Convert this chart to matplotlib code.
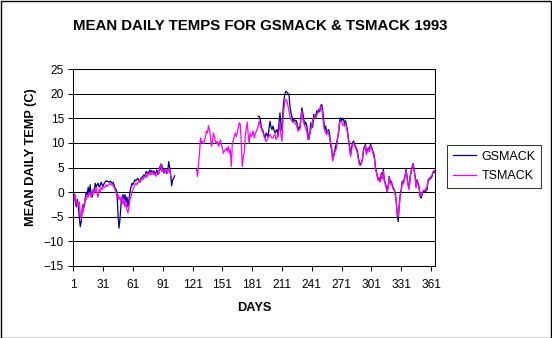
import matplotlib
matplotlib.use("Agg")
import matplotlib.pyplot as plt
import matplotlib.patches as mpatches
import numpy as np

plt.rcParams['font.family'] = ['Liberation Sans', 'DejaVu Sans']

# GSMACK, days 1-103, then missing until day 187
gs_winter = [-1.0, -0.5, -2.0, -3.0, -1.5, -2.5, -5.0, -7.0, -6.0, -3.5,
             -2.5, -3.0, -1.5, 0.0, -0.5, 1.0, -0.5, 1.5, -0.8, -1.0,
             0.5, 0.0, 1.8, 1.0, 1.5, 1.8, 1.0, 1.3, 2.0, 1.5,
             1.2, 1.8, 2.0, 2.3, 2.2, 2.2, 2.0, 2.2, 2.1, 1.8,
             2.0, 1.5, 0.8, 0.5, 0.0, -4.5, -7.3, -5.5, -2.5, -1.0,
             -0.5, -1.5, -0.5, -2.0, -1.0, -3.0, -1.5, 0.0, 1.0, 1.8,
             1.5, 2.0, 2.5, 2.3, 2.6, 2.8, 2.4, 2.0, 2.8, 3.0,
             3.2, 3.5, 3.0, 4.0, 4.2, 3.5, 4.0, 4.5, 4.0, 4.4,
             3.8, 4.3, 4.0, 3.5, 4.5, 4.0, 3.7, 5.2, 4.6, 5.6,
             4.3, 4.8, 4.0, 4.5, 3.8, 4.2, 6.2, 5.0, 3.5, 1.3,
             2.5, 2.8, 3.3]
gs_summer = [15.4, 15.4, 15.0, 13.4, 12.8, 12.4, 11.5, 11.0, 12.0, 11.6,
             11.3, 13.0, 14.4, 13.2, 12.7, 13.4, 12.6, 12.0, 12.4, 12.7,
             11.3, 14.1, 16.1, 13.5, 12.4, 16.5, 18.8, 20.0, 20.5, 20.3,
             20.0, 19.9, 17.5, 16.1, 15.4, 14.4, 14.8, 14.4, 14.6, 14.1,
             12.7, 13.2, 13.0, 15.0, 17.1, 16.1, 14.7, 13.7, 14.2, 13.4,
             12.0, 10.7, 12.0, 14.1, 13.0, 13.4, 15.8, 15.1, 15.5, 16.5,
             16.1, 16.8, 16.3, 17.6, 17.8, 16.5, 14.5, 12.7, 13.4, 12.0,
             12.5, 12.7, 11.7, 9.6, 8.5, 6.7, 7.6, 8.3, 9.3, 10.0,
             11.0, 12.0, 14.4, 15.1, 14.4, 15.0, 14.8, 13.7, 14.5, 13.5,
             12.4, 10.7, 9.5, 7.6, 9.0, 10.0, 10.4, 9.7, 9.3, 8.8,
             8.3, 6.9, 5.9, 5.6, 6.0, 6.6, 8.6, 9.3, 9.7, 8.0,
             8.6, 9.0, 8.5, 9.7, 9.3, 8.6, 8.0, 7.3, 5.2, 4.2,
             3.2, 2.5, 2.9, 2.2, 3.9, 2.9, 4.6, 2.5, 1.8, 1.1,
             0.1, 1.5, 3.2, 1.8, 2.2, 1.5, 0.8, 0.5, -0.2, -1.9,
             -4.6, -6.0, -2.6, -0.5, 0.5, 2.2, 1.8, 2.6, 3.5, 4.6,
             2.9, 1.5, 0.8, 3.2, 4.2, 5.2, 5.8, 4.5, 3.2, 1.1,
             2.5, 1.8, 1.1, -0.9, -1.2, -0.5, 0.0, 0.1, 0.1, 0.3,
             0.5, 2.2, 2.5, 2.7, 2.9, 3.2, 3.9, 4.2, 4.0]

# TSMACK, days 1-100, then missing until day 125
ts_winter = [0.0, -1.5, -0.5, -2.5, -2.0, -3.0, -2.0, -4.5, -5.5, -3.0,
             -4.0, -2.5, -1.0, -1.5, -0.5, -1.0, 0.0, -0.5, -1.0, 0.0,
             -0.5, 0.5, 0.0, 0.8, -0.5, -1.0, 0.5, 0.0, 1.0, 0.5,
             1.2, 1.0, 1.0, 1.5, 1.2, 1.3, 1.5, 1.8, 1.5, 1.6,
             1.3, 1.0, 0.5, 0.0, -1.0, -0.5, -1.5, -1.0, -2.0, -1.0,
             -2.5, -1.5, -3.0, -2.0, -3.5, -4.2, -3.0, -1.5, -1.0, 0.0,
             0.5, 1.0, 1.5, 1.8, 1.5, 2.0, 2.2, 2.0, 2.5, 2.8,
             2.5, 3.0, 3.2, 3.5, 3.0, 3.8, 3.5, 4.0, 3.5, 3.8,
             4.2, 3.5, 3.8, 3.2, 4.0, 3.5, 4.0, 4.8, 5.8, 4.2,
             4.6, 3.8, 4.4, 4.0, 4.5, 3.9, 4.8, 4.5, 3.3, 3.0]
ts_summer = [4.6, 3.2, 5.5, 7.9, 11.0, 10.0, 10.3, 9.9, 10.5, 11.3,
             12.4, 12.0, 13.5, 12.7, 11.3, 9.3, 10.3, 12.0, 11.3, 10.3,
             9.9, 10.3, 9.3, 9.8, 10.6, 9.6, 8.9, 7.9, 8.3, 8.6,
             8.9, 8.3, 9.3, 7.9, 8.6, 5.2, 9.9, 10.5, 11.3, 12.0,
             11.3, 12.0, 13.0, 14.1, 13.8, 10.3, 5.2, 7.0, 8.0, 11.3,
             12.7, 14.2, 11.7, 10.0, 12.0, 11.3, 11.5, 12.4, 11.0, 11.7,
             12.3, 12.7, 13.4, 14.4, 13.8, 13.0, 12.5, 12.0, 11.3, 10.7,
             10.3, 10.6, 11.0, 11.4, 11.7, 11.3, 11.0, 11.0, 11.5, 11.7,
             10.7, 11.0, 12.0, 12.4, 14.1, 11.5, 10.3, 14.8, 17.0, 18.5,
             18.8, 18.6, 17.5, 16.5, 15.4, 14.8, 14.4, 14.1, 14.3, 14.1,
             13.7, 13.5, 12.4, 12.6, 12.7, 14.5, 16.5, 14.8, 14.0, 13.4,
             12.8, 12.4, 10.7, 11.2, 11.7, 12.8, 13.4, 14.8, 15.0, 15.4,
             15.1, 15.6, 16.1, 16.4, 16.8, 17.5, 17.0, 15.4, 13.5, 12.4,
             12.0, 11.7, 12.4, 11.8, 11.0, 10.0, 9.3, 6.3, 7.2, 8.0,
             8.5, 9.0, 11.0, 12.5, 14.1, 14.3, 14.4, 13.7, 13.6, 13.4,
             14.0, 13.0, 12.0, 10.2, 9.0, 7.2, 8.5, 9.6, 10.0, 9.5,
             9.0, 8.5, 7.8, 6.5, 5.5, 5.4, 5.8, 6.8, 8.2, 9.0,
             9.5, 7.6, 8.3, 8.8, 8.2, 9.4, 9.0, 8.3, 7.5, 6.8,
             4.8, 4.0, 3.0, 2.3, 2.7, 2.0, 3.6, 2.7, 4.3, 2.2,
             1.5, 0.8, 0.0, 1.3, 3.0, 1.6, 2.0, 1.2, 0.6, 0.3,
             -0.5, -2.0, -4.2, -5.0, -3.0, -0.8, 0.3, 2.0, 1.6, 2.4,
             3.3, 4.4, 2.6, 1.2, 0.5, 3.0, 4.0, 5.0, 5.6, 4.3,
             3.0, 0.9, 2.2, 1.5, 0.8, -0.5, -0.8, -0.2, 0.3, 0.4,
             0.5, 0.8, 1.0, 2.5, 2.8, 3.0, 3.2, 3.5, 4.2, 4.4,
             4.3]

gsmack = np.array(gs_winter + [None] * 83 + gs_summer, dtype=float)
tsmack = np.array(ts_winter + [None] * 24 + ts_summer, dtype=float)
assert len(gsmack) == 365 and len(tsmack) == 365
days = np.arange(1, 366)
xticks = np.arange(1, 366, 30)

fig = plt.figure(figsize=(5.52, 3.38), dpi=100)
ax = fig.add_axes([73.3 / 552, 72 / 338, 361.7 / 552, 197 / 338])

ax.plot(days, gsmack, color='#000080', lw=0.9, label='GSMACK')
ax.plot(days, tsmack, color='#FF00FF', lw=0.9, label='TSMACK')

ax.set_xlim(1, 365)
ax.set_ylim(-15, 25)
ax.set_xticks(xticks)
ax.set_xticklabels([str(t) for t in xticks])
ax.set_yticks(np.arange(-15, 26, 5))
ax.tick_params(axis='both', direction='out', length=3.5, width=0.75,
               labelsize=8.6, color='black')
ax.tick_params(axis='x', pad=6)
ax.tick_params(axis='y', pad=3.3)
ax.grid(axis='y', color='black', lw=0.75)
ax.set_axisbelow(True)
for s in ax.spines.values():
    s.set_linewidth(0.75)
    s.set_color('black')

ax.set_xlabel('DAYS', fontsize=9.2, fontweight='bold', labelpad=8)
ax.set_ylabel('MEAN DAILY TEMP (C)', fontsize=9.2, fontweight='bold')
ax.yaxis.set_label_coords(-0.1, 0.555)

fig.text(260 / 552, 1 - 26 / 338, 'MEAN DAILY TEMPS FOR GSMACK & TSMACK 1993',
         ha='center', va='center', fontsize=10.8, fontweight='bold')

leg = ax.legend(loc='upper left', bbox_to_anchor=(447 / 552, 1 - 145 / 338),
                bbox_transform=fig.transFigure, fontsize=9, frameon=True,
                fancybox=False, handlelength=1.9, handletextpad=0.4,
                labelspacing=0.6, borderpad=0.45, borderaxespad=0)
leg.get_frame().set_edgecolor('black')
leg.get_frame().set_linewidth(0.75)

fig.patches.append(mpatches.Rectangle((0.5 / 552, 0.5 / 338), 1 - 1.5 / 552, 1 - 1.5 / 338,
                                      transform=fig.transFigure, fill=False,
                                      edgecolor='black', lw=1.0))

fig.savefig('out.png', dpi=100)
